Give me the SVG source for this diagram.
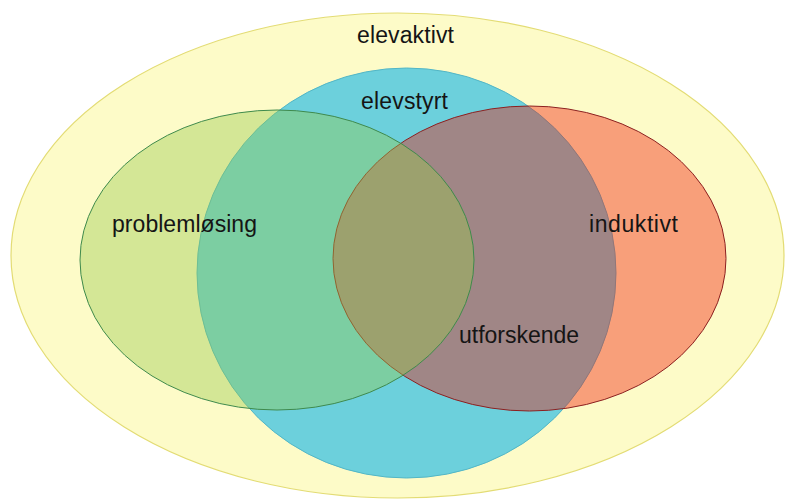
<svg xmlns="http://www.w3.org/2000/svg" width="786" height="500" viewBox="0 0 786 500">
  <style>
    .lbl { font-family: "Liberation Sans", Arial, sans-serif; font-size: 23px; fill: #151515; }
  </style>
  <rect width="786" height="500" fill="#ffffff"/>
  <g id="elevaktivt">
    <ellipse cx="397.5" cy="255.5" rx="386.5" ry="242.5" fill="#fdfbc8" stroke="#e3dc74" stroke-width="1.2"/>
    <text class="lbl" x="357" y="43" textLength="97" lengthAdjust="spacing">elevaktivt</text>
  </g>
  <g id="elevstyrt">
    <ellipse cx="406.5" cy="273" rx="209.5" ry="205" fill="#6cd0dc" stroke="#52b6c6" stroke-width="1"/>
    <text class="lbl" x="361" y="109" textLength="87" lengthAdjust="spacing">elevstyrt</text>
  </g>
  <g id="induktivt">
    <ellipse cx="529.5" cy="258.5" rx="196.5" ry="152.5" fill="#f01705" fill-opacity="0.4" stroke="#8c2020" stroke-width="1"/>
    <text class="lbl" x="589" y="232" textLength="89" lengthAdjust="spacing">induktivt</text>
  </g>
  <g id="problemlosing">
    <ellipse cx="277" cy="260" rx="197" ry="150" fill="#96cb4b" fill-opacity="0.4" stroke="#3f8a4c" stroke-width="1"/>
    <text class="lbl" x="112" y="232" textLength="145" lengthAdjust="spacing">problemløsing</text>
  </g>
  <g id="utforskende">
    <text class="lbl" x="459" y="343" textLength="120" lengthAdjust="spacing">utforskende</text>
  </g>
  <g id="connectors"/>
</svg>
